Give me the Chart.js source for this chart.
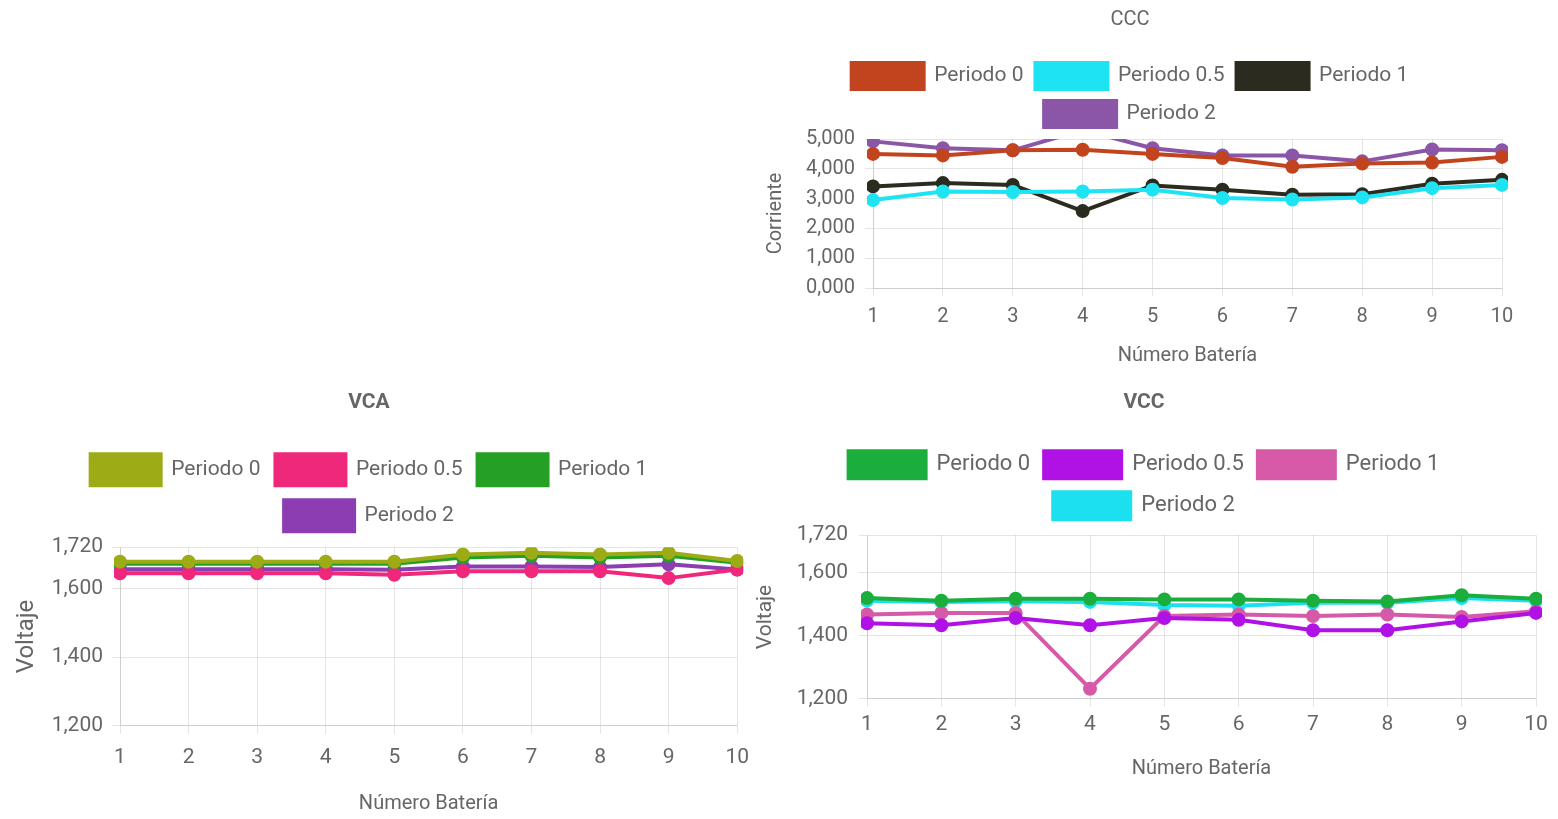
<!DOCTYPE html>
<html>
<head>
<meta charset="utf-8">
<title>CCC / VCA / VCC</title>
<script src="https://cdn.jsdelivr.net/npm/chart.js@4.4.0/dist/chart.umd.min.js"></script>
<style>
  html, body { margin: 0; padding: 0; background: #fff; }
  body { width: 1558px; height: 819px; position: relative; overflow: hidden; }
  .box { position: absolute; }
</style>
</head>
<body>
<div class="box" style="left:758px;top:0;width:770px;height:372px"><canvas id="ccc"></canvas></div>
<div class="box" style="left:0;top:382px;width:760px;height:438px"><canvas id="vca"></canvas></div>
<div class="box" style="left:752px;top:382px;width:806px;height:403px"><canvas id="vcc"></canvas></div>
<script>
'use strict';

// ---- Data ----
const baterias = ['1', '2', '3', '4', '5', '6', '7', '8', '9', '10'];
const periodos = ['Periodo 0', 'Periodo 0.5', 'Periodo 1', 'Periodo 2'];

// CCC - corriente
const cccP0  = [4.50, 4.45, 4.62, 4.64, 4.50, 4.36, 4.07, 4.18, 4.21, 4.40];
const cccP05 = [2.95, 3.24, 3.22, 3.24, 3.30, 3.02, 2.97, 3.04, 3.35, 3.46];
const cccP1  = [3.41, 3.52, 3.46, 2.58, 3.44, 3.30, 3.13, 3.15, 3.50, 3.63];
const cccP2  = [4.92, 4.69, 4.62, 5.30, 4.69, 4.45, 4.45, 4.25, 4.65, 4.62];
const cccTicks = [0, 1, 2, 3, 4, 5];

// VCA - voltaje
const vcaP0  = [1.678, 1.678, 1.678, 1.678, 1.678, 1.699, 1.704, 1.699, 1.704, 1.680];
const vcaP05 = [1.644, 1.644, 1.644, 1.644, 1.640, 1.650, 1.650, 1.650, 1.630, 1.655];
const vcaP1  = [1.672, 1.672, 1.672, 1.672, 1.672, 1.690, 1.695, 1.690, 1.695, 1.675];
const vcaP2  = [1.656, 1.656, 1.656, 1.656, 1.654, 1.664, 1.664, 1.662, 1.670, 1.655];

// VCC - voltaje
const vccP0  = [1.520, 1.512, 1.518, 1.518, 1.516, 1.516, 1.512, 1.509, 1.529, 1.518];
const vccP05 = [1.440, 1.434, 1.457, 1.434, 1.457, 1.451, 1.418, 1.418, 1.446, 1.473];
const vccP1  = [1.468, 1.473, 1.473, 1.232, 1.463, 1.468, 1.463, 1.468, 1.460, 1.478];
const vccP2  = [1.512, 1.508, 1.510, 1.508, 1.498, 1.496, 1.505, 1.505, 1.520, 1.512];
const voltTicks = [1.2, 1.4, 1.6, 1.72];

// ---- Colours ----
const cccColors = ['#c2441e', '#1ee3f3', '#2b2b1f', '#8b55a8'];
const vcaColors = ['#9cab16', '#f0287c', '#25a025', '#8c3db2'];
const vccColors = ['#1cae3c', '#b012e6', '#d65aa8', '#1ce0f0'];

Chart.defaults.font.family = 'Roboto, "Liberation Sans", sans-serif';
Chart.defaults.color = '#666';

// empty box placed between the legend and the plot area
function gapPlugin(size) {
  return {
    id: 'legendGap',
    beforeInit(chart) {
      Chart.layouts.addBox(chart, {
        position: 'top',
        weight: 0,
        fullSize: true,
        options: {},
        width: 0,
        height: 0,
        isHorizontal() { return true; },
        update(maxW) { this.width = maxW; this.height = size; },
        draw() {}
      });
    }
  };
}

// cut the lines strictly at the plot area (values above the max disappear)
const strictClip = {
  id: 'strictClip',
  beforeDatasetsDraw(chart) {
    const a = chart.chartArea;
    chart.ctx.save();
    chart.ctx.beginPath();
    chart.ctx.rect(a.left - 6, a.top, a.right - a.left + 12, a.bottom - a.top + 6);
    chart.ctx.clip();
  },
  afterDatasetsDraw(chart) {
    chart.ctx.restore();
  }
};

function fmt(v) {
  return Number(v).toFixed(3).replace('.', ',');
}

function makeChart(id, c) {
  const datasets = c.series.map((data, i) => ({
    label: periodos[i],
    data: data,
    borderColor: c.colors[i],
    backgroundColor: c.colors[i],
    pointBackgroundColor: c.colors[i],
    pointBorderColor: c.colors[i],
    borderWidth: 4,
    pointRadius: 5,
    tension: 0,
    fill: false,
    clip: false
  }));

  return new Chart(document.getElementById(id), {
    type: 'line',
    data: { labels: baterias, datasets },
    plugins: [gapPlugin(c.gap), strictClip],
    options: {
      responsive: true,
      maintainAspectRatio: false,
      animation: false,
      layout: { padding: { left: 0, right: c.padRight, top: 2, bottom: 0 } },
      plugins: {
        title: {
          display: true,
          text: c.title,
          color: '#666',
          font: { size: c.titleSize, weight: c.titleWeight },
          padding: { top: 6, bottom: c.titleGap }
        },
        legend: {
          position: 'top',
          labels: {
            boxWidth: c.boxW,
            boxHeight: c.boxH,
            padding: c.legendPad,
            font: { size: c.legendFont }
          }
        },
        tooltip: { enabled: false }
      },
      scales: {
        x: {
          ticks: { padding: c.xTickPad, font: { size: c.tickFont } },
          title: {
            display: true,
            text: 'Número Batería',
            font: { size: 20 },
            padding: { top: c.xTitlePad, bottom: 4 }
          }
        },
        y: {
          min: c.min,
          max: c.max,
          afterBuildTicks: (scale) => { scale.ticks = c.ticks.map(v => ({ value: v })); },
          afterFit: (scale) => { scale.width = c.yWidth; },
          ticks: { padding: c.yTickPad, font: { size: c.tickFont }, callback: fmt },
          title: {
            display: true,
            text: c.yTitle,
            font: { size: c.yTitleFont },
            padding: { top: c.yTitlePad, bottom: 4 }
          }
        }
      }
    }
  });
}

makeChart('ccc', {
  title: 'CCC', titleSize: 20, titleWeight: 'normal', titleGap: 19,
  series: [cccP0, cccP05, cccP1, cccP2], colors: cccColors,
  boxW: 72, boxH: 26, legendPad: 12, legendFont: 21, gap: 2,
  padRight: 26, min: 0, max: 5, ticks: cccTicks,
  yTitle: 'Corriente', yTitleFont: 20, yTitlePad: 6, yWidth: 115, yTickPad: 10,
  tickFont: 20, xTickPad: 9, xTitlePad: 6
});

makeChart('vca', {
  title: 'VCA', titleSize: 21, titleWeight: 'bold', titleGap: 24,
  series: [vcaP0, vcaP05, vcaP1, vcaP2], colors: vcaColors,
  boxW: 70, boxH: 31, legendPad: 15, legendFont: 21, gap: 6,
  padRight: 22, min: 1.2, max: 1.72, ticks: voltTicks,
  yTitle: 'Voltaje', yTitleFont: 24, yTitlePad: 13, yWidth: 120, yTickPad: 9,
  tickFont: 21, xTickPad: 11, xTitlePad: 11
});

makeChart('vcc', {
  title: 'VCC', titleSize: 21, titleWeight: 'bold', titleGap: 22,
  series: [vccP0, vccP05, vccP1, vccP2], colors: vccColors,
  boxW: 77, boxH: 27, legendPad: 14, legendFont: 22, gap: 6,
  padRight: 22, min: 1.2, max: 1.72, ticks: voltTicks,
  yTitle: 'Voltaje', yTitleFont: 21, yTitlePad: 1, yWidth: 115, yTickPad: 11,
  tickFont: 21, xTickPad: 5, xTitlePad: 15
});
</script>
</body>
</html>
